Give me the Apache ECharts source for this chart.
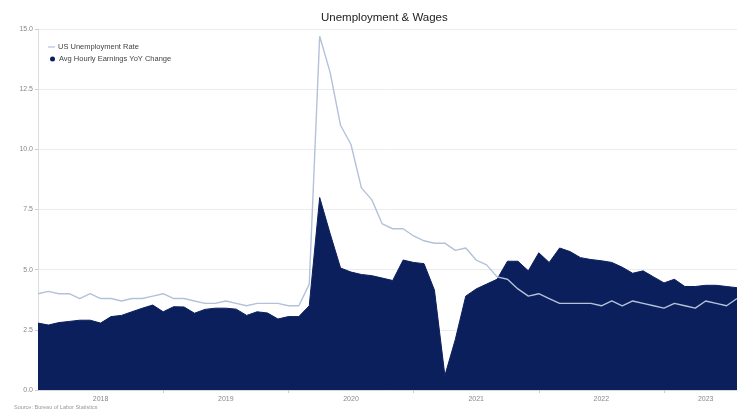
<!DOCTYPE html>
<html>
<head>
<meta charset="utf-8">
<script src="https://cdn.jsdelivr.net/npm/echarts@6/dist/echarts.min.js"></script>
<style>
  html, body { margin: 0; padding: 0; background: #ffffff; }
  #chart { width: 748px; height: 412px; }
</style>
</head>
<body>
<div id="chart"></div>
<script>
// Monthly observations, Jan 2018 – Aug 2023
const months = [
  '2018-01','2018-02','2018-03','2018-04','2018-05','2018-06','2018-07','2018-08','2018-09','2018-10','2018-11','2018-12',
  '2019-01','2019-02','2019-03','2019-04','2019-05','2019-06','2019-07','2019-08','2019-09','2019-10','2019-11','2019-12',
  '2020-01','2020-02','2020-03','2020-04','2020-05','2020-06','2020-07','2020-08','2020-09','2020-10','2020-11','2020-12',
  '2021-01','2021-02','2021-03','2021-04','2021-05','2021-06','2021-07','2021-08','2021-09','2021-10','2021-11','2021-12',
  '2022-01','2022-02','2022-03','2022-04','2022-05','2022-06','2022-07','2022-08','2022-09','2022-10','2022-11','2022-12',
  '2023-01','2023-02','2023-03','2023-04','2023-05','2023-06','2023-07','2023-08'
];

// US unemployment rate, %
const unemploymentRate = [
  4.0, 4.1, 4.0, 4.0, 3.8, 4.0, 3.8, 3.8, 3.7, 3.8, 3.8, 3.9,
  4.0, 3.8, 3.8, 3.7, 3.6, 3.6, 3.7, 3.6, 3.5, 3.6, 3.6, 3.6,
  3.5, 3.5, 4.4, 14.7, 13.2, 11.0, 10.2, 8.4, 7.9, 6.9, 6.7, 6.7,
  6.4, 6.2, 6.1, 6.1, 5.8, 5.9, 5.4, 5.2, 4.7, 4.6, 4.2, 3.9,
  4.0, 3.8, 3.6, 3.6, 3.6, 3.6, 3.5, 3.7, 3.5, 3.7, 3.6, 3.5,
  3.4, 3.6, 3.5, 3.4, 3.7, 3.6, 3.5, 3.8
];

// Average hourly earnings, year-over-year change, %
const earningsYoY = [
  2.78, 2.70, 2.80, 2.85, 2.90, 2.90, 2.78, 3.05, 3.10, 3.25, 3.40, 3.53,
  3.25, 3.46, 3.45, 3.19, 3.35, 3.40, 3.40, 3.36, 3.10, 3.25, 3.20, 2.95,
  3.05, 3.05, 3.50, 8.00, 6.50, 5.07, 4.90, 4.80, 4.75, 4.65, 4.55, 5.40,
  5.30, 5.25, 4.15, 0.60, 2.10, 3.90, 4.20, 4.40, 4.60, 5.35, 5.35, 4.95,
  5.70, 5.30, 5.90, 5.75, 5.50, 5.42, 5.37, 5.30, 5.10, 4.85, 4.95, 4.70,
  4.45, 4.60, 4.30, 4.30, 4.35, 4.35, 4.30, 4.25
];

// Year labels sit mid-way through each year's span on the axis
const yearLabels = { '2018-07': '2018', '2019-07': '2019', '2020-07': '2020',
                     '2021-07': '2021', '2022-07': '2022', '2023-05': '2023' };

const yTicks = [0, 2.5, 5, 7.5, 10, 12.5, 15];

const chart = echarts.init(document.getElementById('chart'), null, { renderer: 'canvas' });

const FONT = 'Liberation Sans, Arial, sans-serif';

chart.setOption({
  animation: false,
  backgroundColor: '#ffffff',
  textStyle: { fontFamily: FONT },
  title: {
    text: 'Unemployment & Wages',
    left: 316,
    top: 7,
    textStyle: { fontFamily: FONT, fontSize: 11.5, fontWeight: 'normal', color: '#222222' }
  },
  graphic: [{
    type: 'text',
    left: 14,
    top: 404,
    style: { text: 'Source: Bureau of Labor Statistics', fontFamily: FONT, fontSize: 5.5, fill: '#999999' }
  }],
  legend: [
    {
      data: ['US Unemployment Rate'],
      orient: 'vertical',
      left: 43,
      top: 38,
      icon: 'rect',
      itemWidth: 7,
      itemHeight: 1.2,
      itemGap: 4,
      textStyle: { fontFamily: FONT, fontSize: 7.5, color: '#444444', padding: [0, 0, 0, -2] }
    },
    {
      data: ['Avg Hourly Earnings YoY Change'],
      orient: 'vertical',
      left: 45,
      top: 50,
      icon: 'circle',
      itemWidth: 5,
      itemHeight: 5,
      textStyle: { fontFamily: FONT, fontSize: 7.5, color: '#444444', padding: [0, 0, 0, -1] }
    }
  ],
  grid: { left: 38, right: 11, top: 29, bottom: 22, containLabel: false },
  xAxis: {
    type: 'category',
    data: months,
    boundaryGap: false,
    axisLine: { show: true, lineStyle: { color: '#d8d8d8', width: 1 } },
    axisTick: {
      show: true,
      interval: (i, v) => i > 0 && v.endsWith('-01'),
      length: 3,
      lineStyle: { color: '#cccccc' }
    },
    axisLabel: {
      interval: 0,
      formatter: v => yearLabels[v] || '',
      fontSize: 7,
      color: '#888888',
      margin: 6,
      fontFamily: FONT
    },
    splitLine: { show: false }
  },
  yAxis: {
    type: 'value',
    min: 0,
    max: 15,
    interval: 2.5,
    axisLine: { show: true, lineStyle: { color: '#dddddd', width: 1 } },
    axisTick: { show: true, length: 3, lineStyle: { color: '#cccccc' } },
    axisLabel: {
      formatter: v => yTicks.includes(v) ? v.toFixed(1) : '',
      fontSize: 7,
      color: '#888888',
      margin: 5,
      fontFamily: FONT
    },
    splitLine: { show: true, lineStyle: { color: '#ececec', width: 1 } }
  },
  series: [
    {
      name: 'Avg Hourly Earnings YoY Change',
      type: 'line',
      data: earningsYoY,
      symbol: 'none',
      color: '#0b1f5c',
      lineStyle: { width: 1, color: '#0b1f5c' },
      areaStyle: { color: '#0b1f5c', opacity: 1 },
      z: 2
    },
    {
      name: 'US Unemployment Rate',
      type: 'line',
      data: unemploymentRate,
      symbol: 'none',
      color: '#b3c2d8',
      lineStyle: { width: 1.4, color: '#b3c2d8' },
      z: 3
    }
  ]
});
</script>
</body>
</html>
